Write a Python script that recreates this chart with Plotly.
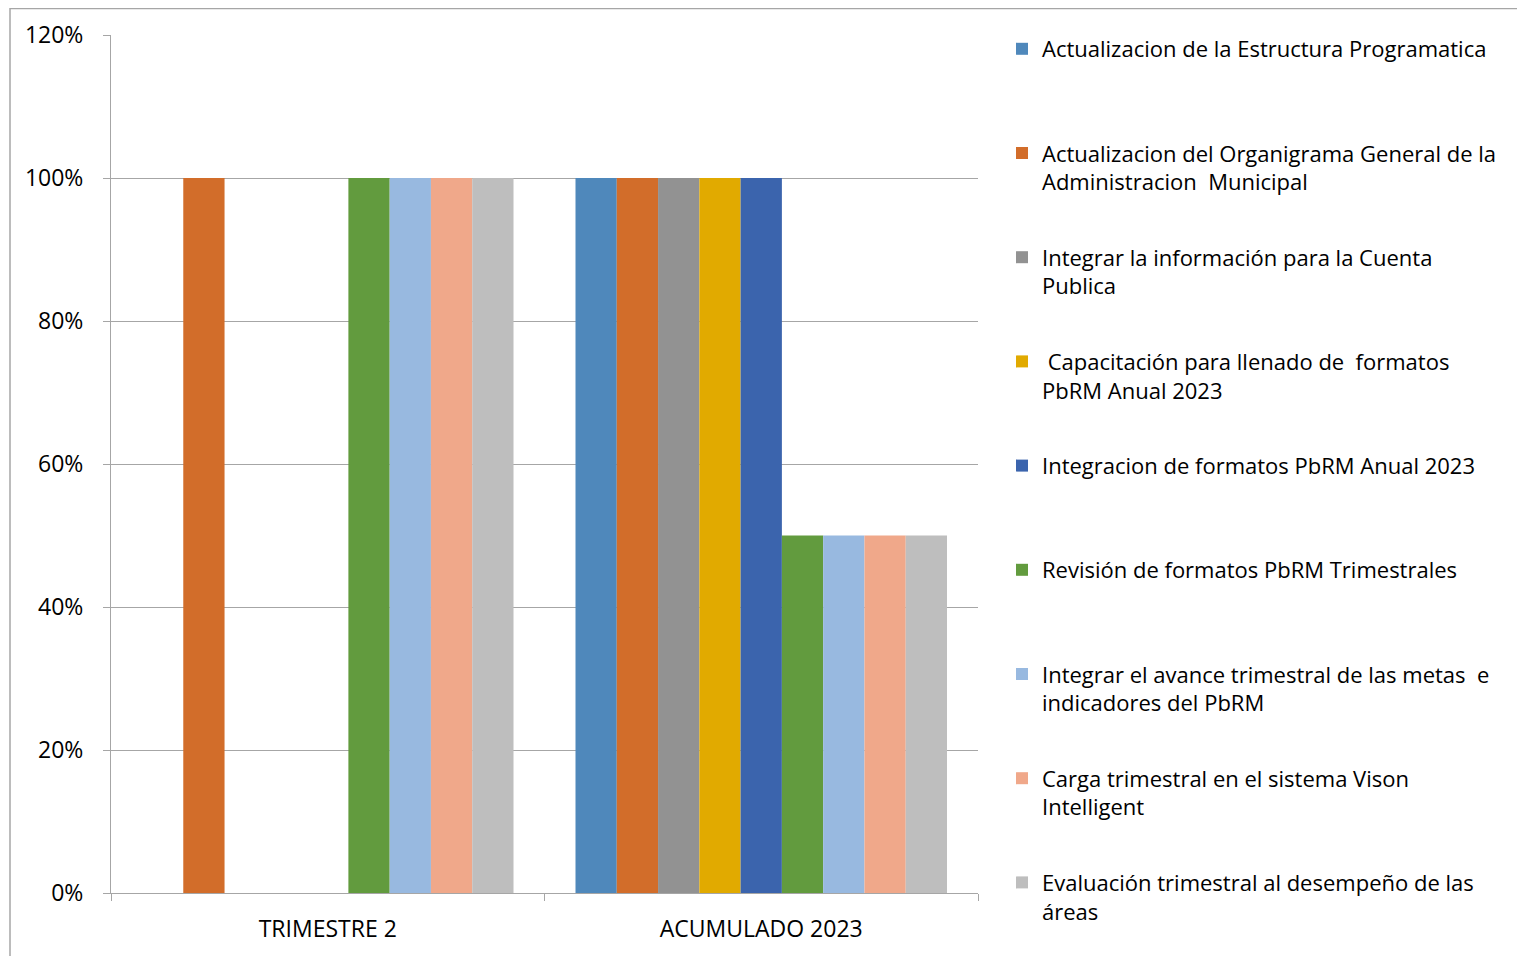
import plotly.graph_objects as go

categories = ["TRIMESTRE 2", "ACUMULADO 2023"]

series_names = [
    "Actualizacion de la Estructura Programatica",
    "Actualizacion del Organigrama General de la<br>Administracion  Municipal",
    "Integrar la información para la Cuenta<br>Publica",
    " Capacitación para llenado de  formatos<br>PbRM Anual 2023",
    "Integracion de formatos PbRM Anual 2023",
    "Revisión de formatos PbRM Trimestrales",
    "Integrar el avance trimestral de las metas  e<br>indicadores del PbRM",
    "Carga trimestral en el sistema Vison<br>Intelligent",
    "Evaluación trimestral al desempeño de las<br>áreas",
]

trimestre_2 = [0, 1.0, 0, 0, 0, 1.0, 1.0, 1.0, 1.0]
acumulado_2023 = [1.0, 1.0, 1.0, 1.0, 1.0, 0.5, 0.5, 0.5, 0.5]

colors = ['#4F88BB', '#D26D2A', '#929292', '#E1AA00', '#3B64AD',
          '#629B3E', '#98B9E0', '#F0A88A', '#BEBEBE']

FONT = "Open Sans"
FSIZE = 23

fig = go.Figure()

for i, name in enumerate(series_names):
    # keep every legend item two lines tall so spacing stays even
    label = name if "<br>" in name else name + "<br> "
    fig.add_trace(go.Bar(
        x=categories,
        y=[trimestre_2[i], acumulado_2023[i]],
        name=label,
        legendgroup=str(i),
        marker=dict(color=colors[i], line=dict(width=0)),
    ))

# page body has an 8px margin, so the figure is sized/offset to compensate
fig.update_layout(
    width=1517, height=948,
    barmode='group',
    bargap=0.143,
    bargroupgap=0,
    plot_bgcolor='white',
    paper_bgcolor='white',
    font=dict(family=FONT, size=FSIZE, color='black'),
    margin=dict(l=103, r=547, t=27, b=63, autoexpand=False),
    legend=dict(
        xref='container', yref='container',
        x=994 / 1517, y=1 - 20 / 948, xanchor='left', yanchor='top',
        valign='top',
        tracegroupgap=44,
        maxheight=940,
        font=dict(family=FONT, size=22, color='black'),
        bgcolor='rgba(0,0,0,0)',
    ),
    showlegend=True,
)

fig.update_yaxes(
    range=[0, 1.2], dtick=0.2, tickformat='.0%',
    showgrid=True, gridcolor='#A6A6A6', gridwidth=1,
    showline=True, linecolor='#A6A6A6', linewidth=1,
    ticks='outside', ticklen=7, tickcolor='#A6A6A6',
    ticklabelstandoff=15,
    zeroline=False,
)
fig.update_xaxes(
    showline=True, linecolor='#A6A6A6', linewidth=1,
    ticks='outside', ticklen=7, tickcolor='#A6A6A6',
    tickson='boundaries',
    ticklabelstandoff=15,
)

# outer chart border (cropped at right and bottom)
fig.add_shape(type='rect', xref='paper', yref='paper',
              x0=(2 - 103) / 867, x1=1.7, y0=-0.2, y1=(885 - 0.5) / 858,
              line=dict(color='#A6A6A6', width=1.5), fillcolor='rgba(0,0,0,0)',
              layer='below')

fig.write_html("out.html")
